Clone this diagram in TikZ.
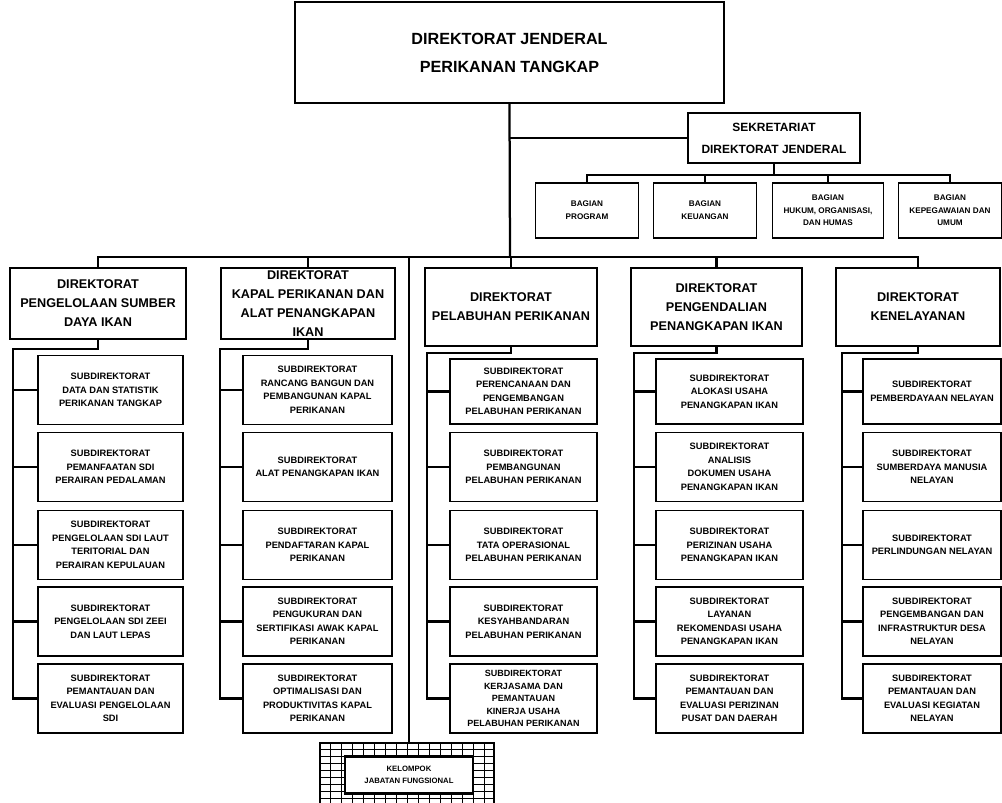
\documentclass[tikz,border=0pt]{standalone}
\usepackage{fontspec}
\setmainfont{Liberation Sans}
\newdimen\px
\px=0.025cm

\begin{document}
\begin{tikzpicture}[x=0.025cm, y=-0.025cm,
    kotak/.style={draw, line width=1.1pt, fill=white, align=center, inner sep=0pt},
    judul/.style={kotak, line width=1.4pt, minimum width=429\px, minimum height=101\px, font=\bfseries\fontsize{11.5}{20}\selectfont},
    sekre/.style={kotak, line width=1.4pt, minimum width=172\px, minimum height=50\px, font=\bfseries\fontsize{8.5}{15.5}\selectfont},
    bagian/.style={kotak, minimum width=103\px, minimum height=55\px, font=\bfseries\fontsize{5.8}{9}\selectfont},
    direk/.style={kotak, line width=1.3pt, minimum width=174\px, minimum height=78\px, font=\bfseries\fontsize{9}{13.5}\selectfont},
    subdit/.style={kotak, minimum width=147\px, minimum height=69\px, font=\bfseries\fontsize{6.6}{9.6}\selectfont},
    jabfung/.style={kotak, line width=1.6pt, minimum width=128\px, minimum height=37\px, font=\bfseries\fontsize{5.5}{8.5}\selectfont},
    garis/.style={line width=1.6pt}
]
\useasboundingbox (0,0) rectangle (1002,803);

% pimpinan
\node[judul] (DJ) at (509.5,52.5) {DIREKTORAT JENDERAL\\PERIKANAN TANGKAP};
\node[sekre] (SET) at (774,138) {SEKRETARIAT\\DIREKTORAT JENDERAL};

\node[bagian] (B1) at (587,210.5) {BAGIAN\\PROGRAM};
\node[bagian] (B2) at (705,210.5) {BAGIAN\\KEUANGAN};
\node[bagian, minimum width=111\px] (B3) at (828,210.5) {BAGIAN\\HUKUM, ORGANISASI,\\DAN HUMAS};
\node[bagian] (B4) at (950,210.5) {BAGIAN\\KEPEGAWAIAN DAN\\UMUM};

% direktorat
\node[direk, minimum width=176\px, minimum height=71\px] (D1) at (98,303.5) {DIREKTORAT\\PENGELOLAAN SUMBER\\DAYA IKAN};
\node[direk, minimum height=71\px] (D2) at (308,303.5) {DIREKTORAT\\KAPAL PERIKANAN DAN\\ALAT PENANGKAPAN\\IKAN};
\node[direk, minimum width=172\px] (D3) at (511,307) {DIREKTORAT\\PELABUHAN PERIKANAN};
\node[direk, minimum width=171\px] (D4) at (716.5,307) {DIREKTORAT\\PENGENDALIAN\\PENANGKAPAN IKAN};
\node[direk, minimum width=164\px] (D5) at (918,307) {DIREKTORAT\\KENELAYANAN};

% subdirektorat
\node[subdit, minimum width=145\px] (S11) at (110.5,390) {SUBDIREKTORAT\\DATA DAN STATISTIK\\PERIKANAN TANGKAP};
\node[subdit, minimum width=145\px] (S12) at (110.5,467) {SUBDIREKTORAT\\PEMANFAATAN SDI\\PERAIRAN PEDALAMAN};
\node[subdit, minimum width=145\px] (S13) at (110.5,545) {SUBDIREKTORAT\\PENGELOLAAN SDI LAUT\\TERITORIAL DAN\\PERAIRAN KEPULAUAN};
\node[subdit, minimum width=145\px] (S14) at (110.5,621.5) {SUBDIREKTORAT\\PENGELOLAAN SDI ZEEI\\DAN LAUT LEPAS};
\node[subdit, minimum width=145\px] (S15) at (110.5,698.5) {SUBDIREKTORAT\\PEMANTAUAN DAN\\EVALUASI PENGELOLAAN\\SDI};

\node[subdit, minimum width=149\px] (S21) at (317.5,390) {SUBDIREKTORAT\\RANCANG BANGUN DAN\\PEMBANGUNAN KAPAL\\PERIKANAN};
\node[subdit, minimum width=149\px] (S22) at (317.5,467) {SUBDIREKTORAT\\ALAT PENANGKAPAN IKAN};
\node[subdit, minimum width=149\px] (S23) at (317.5,545) {SUBDIREKTORAT\\PENDAFTARAN KAPAL\\PERIKANAN};
\node[subdit, minimum width=149\px] (S24) at (317.5,621.5) {SUBDIREKTORAT\\PENGUKURAN DAN\\SERTIFIKASI AWAK KAPAL\\PERIKANAN};
\node[subdit, minimum width=149\px] (S25) at (317.5,698.5) {SUBDIREKTORAT\\OPTIMALISASI DAN\\PRODUKTIVITAS KAPAL\\PERIKANAN};

\node[subdit, minimum height=65\px] (S31) at (523.5,391.5) {SUBDIREKTORAT\\PERENCANAAN DAN\\PENGEMBANGAN\\PELABUHAN PERIKANAN};
\node[subdit] (S32) at (523.5,467) {SUBDIREKTORAT\\PEMBANGUNAN\\PELABUHAN PERIKANAN};
\node[subdit] (S33) at (523.5,545) {SUBDIREKTORAT\\TATA OPERASIONAL\\PELABUHAN PERIKANAN};
\node[subdit] (S34) at (523.5,621.5) {SUBDIREKTORAT\\KESYAHBANDARAN\\PELABUHAN PERIKANAN};
\node[subdit, font=\bfseries\fontsize{6.4}{8.9}\selectfont] (S35) at (523.5,698.5) {SUBDIREKTORAT\\KERJASAMA DAN\\PEMANTAUAN\\KINERJA USAHA\\PELABUHAN PERIKANAN};

\node[subdit, minimum height=65\px] (S41) at (729.5,391.5) {SUBDIREKTORAT\\ALOKASI USAHA\\PENANGKAPAN IKAN};
\node[subdit] (S42) at (729.5,467) {SUBDIREKTORAT\\ANALISIS\\DOKUMEN USAHA\\PENANGKAPAN IKAN};
\node[subdit] (S43) at (729.5,545) {SUBDIREKTORAT\\PERIZINAN USAHA\\PENANGKAPAN IKAN};
\node[subdit] (S44) at (729.5,621.5) {SUBDIREKTORAT\\LAYANAN\\REKOMENDASI USAHA\\PENANGKAPAN IKAN};
\node[subdit] (S45) at (729.5,698.5) {SUBDIREKTORAT\\PEMANTAUAN DAN\\EVALUASI PERIZINAN\\PUSAT DAN DAERAH};

\node[subdit, minimum width=138\px, minimum height=65\px] (S51) at (932,391.5) {SUBDIREKTORAT\\PEMBERDAYAAN NELAYAN};
\node[subdit, minimum width=138\px] (S52) at (932,467) {SUBDIREKTORAT\\SUMBERDAYA MANUSIA\\NELAYAN};
\node[subdit, minimum width=138\px] (S53) at (932,545) {SUBDIREKTORAT\\PERLINDUNGAN NELAYAN};
\node[subdit, minimum width=138\px] (S54) at (932,621.5) {SUBDIREKTORAT\\PENGEMBANGAN DAN\\INFRASTRUKTUR DESA\\NELAYAN};
\node[subdit, minimum width=138\px] (S55) at (932,698.5) {SUBDIREKTORAT\\PEMANTAUAN DAN\\EVALUASI KEGIATAN\\NELAYAN};

% titik bantu
\coordinate (bus) at (510,257);
\coordinate (bg) at (774,175);
\coordinate (P1) at (13,349);
\coordinate (P2) at (220,349);
\coordinate (P3) at (427,353);
\coordinate (P4) at (634,353);
\coordinate (P5) at (842,353);

% garis pimpinan
\draw[garis] (DJ.south) -- (bus);
\draw[garis] (DJ.south |- SET.west) -- (SET.west);
\draw[garis] (SET.south) -- (bg);
\draw[garis] (B1.north) -- (B1.north |- bg) -- (B4.north |- bg) -- (B4.north);
\draw[garis] (B2.north) -- (B2.north |- bg);
\draw[garis] (B3.north) -- (B3.north |- bg);

\draw[garis] (D1.north) -- (D1.north |- bus) -- (D5.north |- bus) -- (D5.north);
\draw[garis] (D2.north) -- (D2.north |- bus);
\draw[garis] (D3.north) -- (D3.north |- bus);
\draw[garis] (D4.north) -- (D4.north |- bus);

% kelompok jabatan fungsional
\draw[line width=0.6pt, xstep=11\px, ystep=7\px] (320,743) grid (494,803);
\draw[line width=1.4pt] (320,743) rectangle (494,806);
\draw[garis] (bus -| 409,0) -- (409,743);
\node[jabfung] (KJF) at (409,775) {KELOMPOK\\JABATAN FUNGSIONAL};

% garis subdirektorat
\draw[garis] (D1.south) |- (P1) |- (S15.west);
\draw[garis] (P1 |- S11.west) -- (S11.west);
\draw[garis] (P1 |- S12.west) -- (S12.west);
\draw[garis] (P1 |- S13.west) -- (S13.west);
\draw[garis] (P1 |- S14.west) -- (S14.west);

\draw[garis] (D2.south) |- (P2) |- (S25.west);
\draw[garis] (P2 |- S21.west) -- (S21.west);
\draw[garis] (P2 |- S22.west) -- (S22.west);
\draw[garis] (P2 |- S23.west) -- (S23.west);
\draw[garis] (P2 |- S24.west) -- (S24.west);

\draw[garis] (D3.south) |- (P3) |- (S35.west);
\draw[garis] (P3 |- S31.west) -- (S31.west);
\draw[garis] (P3 |- S32.west) -- (S32.west);
\draw[garis] (P3 |- S33.west) -- (S33.west);
\draw[garis] (P3 |- S34.west) -- (S34.west);

\draw[garis] (D4.south) |- (P4) |- (S45.west);
\draw[garis] (P4 |- S41.west) -- (S41.west);
\draw[garis] (P4 |- S42.west) -- (S42.west);
\draw[garis] (P4 |- S43.west) -- (S43.west);
\draw[garis] (P4 |- S44.west) -- (S44.west);

\draw[garis] (D5.south) |- (P5) |- (S55.west);
\draw[garis] (P5 |- S51.west) -- (S51.west);
\draw[garis] (P5 |- S52.west) -- (S52.west);
\draw[garis] (P5 |- S53.west) -- (S53.west);
\draw[garis] (P5 |- S54.west) -- (S54.west);
\end{tikzpicture}
\end{document}
